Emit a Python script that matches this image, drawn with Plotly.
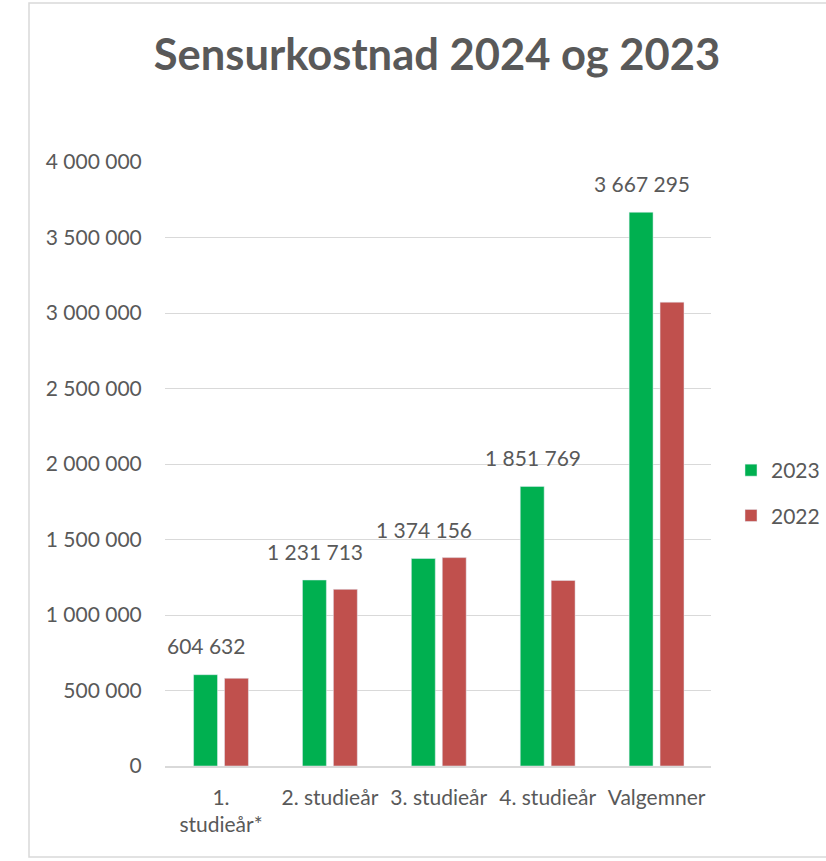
import plotly.graph_objects as go

categories = ["1.<br>studieår*", "2. studieår", "3. studieår", "4. studieår", "Valgemner"]
values_2023 = [604632, 1231713, 1374156, 1851769, 3667295]
values_2022 = [581000, 1170000, 1380000, 1229000, 3072000]
tick_vals = [0, 500000, 1000000, 1500000, 2000000, 2500000, 3000000, 3500000, 4000000]
tick_text = ["0", "500 000", "1 000 000", "1 500 000", "2 000 000", "2 500 000",
             "3 000 000", "3 500 000", "4 000 000"]
title_text = "Sensurkostnad 2024 og 2023"

GREEN = "#00B050"
RED = "#C0504D"
GRAY = "#595959"
FONT = "Lato, 'Open Sans', sans-serif"
FS = 21

W, H = 826, 861
L, R, T, B = 165, 115, 162, 95
pw, ph = W - L - R, H - T - B

def px_x(p):
    return (p - L) / pw

def px_y(p):
    return (H - B - p) / ph

fig = go.Figure()
fig.add_trace(go.Bar(name="2023", x=categories, y=values_2023, marker_color=GREEN,
                     legendgroup="a"))
fig.add_trace(go.Bar(name="2022", x=categories, y=values_2022, marker_color=RED,
                     legendgroup="b"))

annotations = []
for c, v in zip(categories, values_2023):
    annotations.append(dict(
        x=c, y=v, xref="x", yref="y", text=f"{v:,}".replace(",", " "),
        showarrow=False, xshift=-15, yshift=29, yanchor="middle",
        font=dict(family=FONT, size=FS, color=GRAY)))

fig.update_layout(
    width=W, height=H,
    margin=dict(l=L, r=R, t=T, b=B, autoexpand=False),
    paper_bgcolor="white", plot_bgcolor="white",
    barmode="group", bargap=0.432, bargroupgap=0.226,
    title=dict(text=f"<b>{title_text}</b>", x=px_x(437), xref="paper",
               xanchor="center", y=1 - 55 / H, yanchor="middle",
               font=dict(family=FONT, size=43.5, color=GRAY)),
    font=dict(family=FONT, size=FS, color=GRAY),
    xaxis=dict(showgrid=False, showline=True, linecolor="#D9D9D9", linewidth=1.5,
               ticks="outside", ticklen=12, tickcolor="rgba(0,0,0,0)",
               tickfont=dict(family=FONT, size=FS, color=GRAY)),
    yaxis=dict(range=[0, 4000000], tickvals=tick_vals, ticktext=tick_text,
               showgrid=True, gridcolor="#D9D9D9", gridwidth=1.2,
               zeroline=False, showline=False,
               ticks="outside", ticklen=18, tickcolor="rgba(0,0,0,0)",
               tickfont=dict(family=FONT, size=FS, color=GRAY)),
    legend=dict(x=px_x(731), xanchor="left", y=px_y(493), yanchor="middle",
                font=dict(family=FONT, size=FS, color=GRAY),
                tracegroupgap=15, bgcolor="rgba(0,0,0,0)"),
    annotations=annotations,
    shapes=[dict(type="rect", xref="paper", yref="paper",
                 x0=px_x(29), x1=px_x(840), y0=px_y(857), y1=px_y(3),
                 line=dict(color="#D9D9D9", width=1.5), fillcolor="rgba(0,0,0,0)",
                 layer="below")],
)

fig.write_html("out.html", config={"displayModeBar": False},
               post_script="document.body.style.margin='0';document.body.style.overflow='hidden';")
